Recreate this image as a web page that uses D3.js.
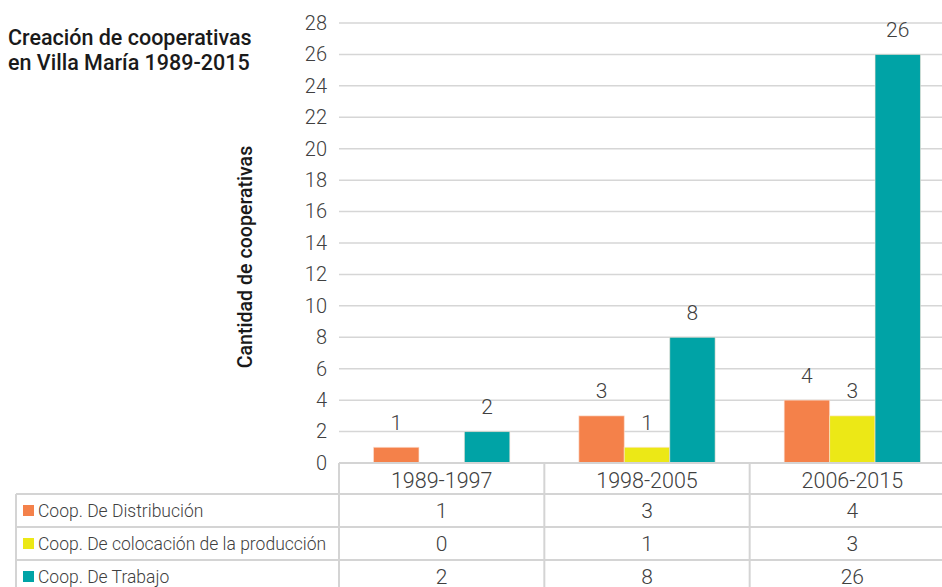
<!DOCTYPE html>
<html>
<head>
<meta charset="utf-8">
<script src="https://cdn.jsdelivr.net/npm/d3@7"></script>
<style>
  body { margin: 0; background: #fff; }
  svg { display: block; font-family: Roboto, sans-serif; }
</style>
</head>
<body>
<svg id="svg1" width="942" height="587"></svg>
<script>
var categories = ["1989-1997", "1998-2005", "2006-2015"];
var seriesNames = ["Coop. De Distribución", "Coop. De colocación de la producción", "Coop. De Trabajo"];
var distribucion = [1, 3, 4];
var colocacion = [0, 1, 3];
var trabajo = [2, 8, 26];
var yTicks = [0, 2, 4, 6, 8, 10, 12, 14, 16, 18, 20, 22, 24, 26, 28];
var colors = ["#f4814a", "#ece816", "#00a3a6"];

var series = [distribucion, colocacion, trabajo];

var svg = d3.select("#svg1");

var plotLeft = 339, plotRight = 955, plotTop = 23, plotBottom = 463;

var scaleX = d3.scaleBand().domain(categories).range([plotLeft, plotRight]);
var scaleS = d3.scaleBand().domain(d3.range(3)).range([0, scaleX.bandwidth()]).paddingOuter(0.76);
var scaleY = d3.scaleLinear().domain([0, 28]).range([plotBottom, plotTop]);

// gridlines
svg.append("g")
    .selectAll("line")
    .data(yTicks)
    .enter()
    .append("line")
      .attr("x1", plotLeft)
      .attr("x2", 942)
      .attr("y1", function(d) { return scaleY(d); })
      .attr("y2", function(d) { return scaleY(d); })
      .attr("stroke", "#d6d6d6")
      .attr("stroke-width", 1.5);

// y axis labels
var yAxis = svg.append("g")
    .attr("transform", "translate(" + (plotLeft - 12) + ",0)")
    .call(d3.axisLeft(scaleY).tickValues(yTicks).tickSize(0).tickPadding(0));
yAxis.select(".domain").remove();
yAxis.selectAll("text")
    .attr("font-family", "Roboto")
    .attr("font-weight", 300)
    .attr("font-size", 20)
    .attr("fill", "#404040");

// bars
var groups = svg.selectAll(".serie")
    .data(series)
    .enter()
    .append("g")
      .attr("class", "serie");

function rows(d, i) {
  return d.map(function(v, j) { return { s: i, c: categories[j], v: v }; });
}

groups.selectAll("rect")
    .data(rows)
    .enter()
    .append("rect")
      .attr("x", function(d) { return scaleX(d.c) + scaleS(d.s); })
      .attr("width", scaleS.bandwidth())
      .attr("y", function(d) { return scaleY(d.v); })
      .attr("height", function(d) { return scaleY(0) - scaleY(d.v); })
      .attr("fill", function(d) { return colors[d.s]; })
      .attr("stroke", "#fbe3d6")
      .attr("stroke-opacity", 0.6)
      .attr("stroke-width", 1);

groups.selectAll(".label")
    .data(function(d, i) { return rows(d, i).filter(function(r) { return r.v > 0; }); })
    .enter()
    .append("text")
      .attr("class", "label")
      .attr("x", function(d) { return scaleX(d.c) + scaleS(d.s) + scaleS.bandwidth() / 2; })
      .attr("y", function(d) { return scaleY(d.v) - 17.5; })
      .attr("text-anchor", "middle")
      .attr("font-weight", 300)
      .attr("font-size", 21)
      .attr("fill", "#404040")
      .text(function(d) { return d.v; });

// data table
var rowH = 33;
var tableLeft = 16;
var lineColor = "#d4d4d4";
var table = svg.append("g");

table.append("line")
    .attr("x1", plotLeft).attr("x2", 942)
    .attr("y1", plotBottom).attr("y2", plotBottom)
    .attr("stroke", lineColor).attr("stroke-width", 2);

categories.forEach(function(c) {
  table.append("line")
      .attr("x1", scaleX(c)).attr("x2", scaleX(c))
      .attr("y1", plotBottom).attr("y2", 587)
      .attr("stroke", lineColor).attr("stroke-width", 2);
  table.append("text")
      .attr("x", scaleX(c) + scaleX.bandwidth() / 2)
      .attr("y", plotBottom + 25)
      .attr("text-anchor", "middle")
      .attr("font-weight", 300)
      .attr("font-size", 21.5)
      .attr("fill", "#404040")
      .text(c);
});

var rowTop = plotBottom + 31;
seriesNames.forEach(function(name, i) {
  var y0 = rowTop + i * rowH;
  table.append("line")
      .attr("x1", tableLeft).attr("x2", 942)
      .attr("y1", y0).attr("y2", y0)
      .attr("stroke", lineColor).attr("stroke-width", 2);
  table.append("rect")
      .attr("x", tableLeft + 7)
      .attr("y", y0 + 11)
      .attr("width", 11)
      .attr("height", 11)
      .attr("fill", colors[i]);
  table.append("text")
      .attr("x", tableLeft + 22)
      .attr("y", y0 + 23)
      .attr("font-weight", 300)
      .attr("font-size", 17.5)
      .attr("fill", "#404040")
      .text(name);
  series[i].forEach(function(v, j) {
    table.append("text")
        .attr("x", scaleX(categories[j]) + scaleX.bandwidth() / 2)
        .attr("y", y0 + 24)
        .attr("text-anchor", "middle")
        .attr("font-weight", 300)
        .attr("font-size", 21)
        .attr("fill", "#404040")
        .text(v);
  });
});
table.append("line")
    .attr("x1", tableLeft).attr("x2", tableLeft)
    .attr("y1", rowTop).attr("y2", 587)
    .attr("stroke", lineColor).attr("stroke-width", 2);

// title
var title = svg.append("text")
    .attr("x", 8)
    .attr("y", 45)
    .attr("font-weight", 500)
    .attr("font-size", 21.5)
    .attr("fill", "#1a1a1a");
title.append("tspan").attr("x", 8).text("Creación de cooperativas");
title.append("tspan").attr("x", 8).attr("dy", 25).text("en Villa María 1989-2015");

// y axis title
svg.append("text")
    .attr("transform", "translate(252,257) rotate(-90)")
    .attr("text-anchor", "middle")
    .attr("font-weight", 500)
    .attr("font-size", 19.6)
    .attr("fill", "#1a1a1a")
    .text("Cantidad de cooperativas");
</script>
</body>
</html>
